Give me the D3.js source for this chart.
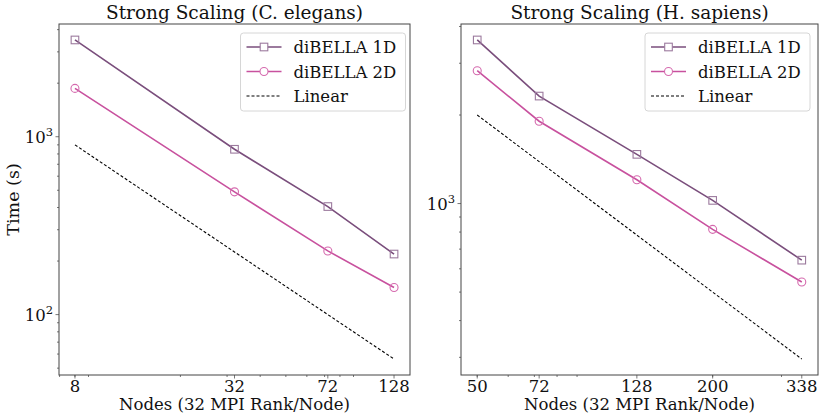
<!DOCTYPE html>
<html>
<head>
<meta charset="utf-8">
<script src="https://cdn.jsdelivr.net/npm/d3@7"></script>
<style>
  html, body { margin: 0; padding: 0; background: #fff; }
  svg text { font-family: "DejaVu Serif", serif; fill: #111; }
</style>
</head>
<body>
<svg id="chart" width="831" height="419"></svg>
<script>
// ---- data ----
const elegansNodes = [8, 32, 72, 128];
const elegans1D = [3500, 850, 405, 219];
const elegans2D = [1870, 490, 228, 142];
const elegansLinear = [900, 225, 100, 56.25];

const sapiensNodes = [50, 72, 128, 200, 338];
const sapiens1D = [3600, 2320, 1470, 1025, 642];
const sapiens2D = [2830, 1905, 1205, 817, 541];
const sapiensLinear = [2000, 1389, 781, 500, 296];

const seriesNames = ["diBELLA 1D", "diBELLA 2D", "Linear"];

// colours
const col1D = "#7a4e7c", mark1D = "#9c7a9e";
const col2D = "#c8519e", mark2D = "#d56aae";

const svg = d3.select("#chart");

function logPad(lo, hi, frac) {
    const a = Math.log10(lo), b = Math.log10(hi);
    const m = (b - a) * frac;
    return [Math.pow(10, a - m), Math.pow(10, b + m)];
}

function drawPanel(opts) {
    const { left, right, top, bottom, nodes, s1, s2, lin, title, yLabel, legendX } = opts;
    const g = svg.append("g");

    const x = d3.scaleLog()
        .domain(logPad(d3.min(nodes), d3.max(nodes), 0.05))
        .range([left, right]);
    const allY = s1.concat(s2, lin);
    const y = d3.scaleLog()
        .domain(logPad(d3.min(allY), d3.max(allY), 0.05))
        .range([bottom, top]);

    // minor ticks (2..9 x 10^k), matplotlib style
    const [xd0, xd1] = x.domain();
    const xMinor = [];
    for (let k = Math.floor(Math.log10(xd0)); k <= Math.ceil(Math.log10(xd1)); k++) {
        for (let s = 2; s <= 9; s++) {
            const v = s * Math.pow(10, k);
            if (v >= xd0 && v <= xd1) xMinor.push(v);
        }
    }
    const [yd0, yd1] = y.domain();
    const yMinor = [], yMajor = [];
    for (let k = Math.floor(Math.log10(yd0)); k <= Math.ceil(Math.log10(yd1)); k++) {
        const dec = Math.pow(10, k);
        if (dec >= yd0 && dec <= yd1) yMajor.push(k);
        for (let s = 2; s <= 9; s++) {
            const v = s * dec;
            if (v >= yd0 && v <= yd1) yMinor.push(v);
        }
    }

    const tickCol = "#555";
    g.selectAll(".xminor").data(xMinor).join("line")
        .attr("x1", d => x(d)).attr("x2", d => x(d))
        .attr("y1", bottom).attr("y2", bottom + 2)
        .attr("stroke", tickCol).attr("stroke-width", 0.8);
    g.selectAll(".xmajor").data(nodes).join("line")
        .attr("x1", d => x(d)).attr("x2", d => x(d))
        .attr("y1", bottom).attr("y2", bottom + 3.5)
        .attr("stroke", tickCol).attr("stroke-width", 0.8);
    g.selectAll(".xlab").data(nodes).join("text")
        .attr("x", d => x(d)).attr("y", bottom + 16.5)
        .attr("text-anchor", "middle")
        .attr("font-size", 16.5)
        .text(d => d);

    g.selectAll(".yminor").data(yMinor).join("line")
        .attr("x1", left - 2).attr("x2", left)
        .attr("y1", d => y(d)).attr("y2", d => y(d))
        .attr("stroke", tickCol).attr("stroke-width", 0.8);
    g.selectAll(".ymajor").data(yMajor).join("line")
        .attr("x1", left - 3.5).attr("x2", left)
        .attr("y1", d => y(Math.pow(10, d))).attr("y2", d => y(Math.pow(10, d)))
        .attr("stroke", tickCol).attr("stroke-width", 0.8);
    const ylab = g.selectAll(".ylab").data(yMajor).join("text")
        .attr("x", left - 6).attr("y", d => y(Math.pow(10, d)) + 6)
        .attr("text-anchor", "end")
        .attr("font-size", 16.5);
    ylab.append("tspan").text("10");
    ylab.append("tspan").attr("dy", -7).attr("font-size", 11.5).text(d => d);

    // spines
    g.append("rect")
        .attr("x", left).attr("y", top)
        .attr("width", right - left).attr("height", bottom - top)
        .attr("fill", "none").attr("stroke", "#444").attr("stroke-width", 1);

    const line = d3.line().x(d => x(d[0])).y(d => y(d[1]));
    const pts = arr => nodes.map((n, i) => [n, arr[i]]);

    g.append("path").datum(pts(lin)).attr("d", line)
        .attr("fill", "none").attr("stroke", "#000")
        .attr("stroke-width", 1.1).attr("stroke-dasharray", "3,2");
    g.append("path").datum(pts(s1)).attr("d", line)
        .attr("fill", "none").attr("stroke", col1D).attr("stroke-width", 1.6);
    g.append("path").datum(pts(s2)).attr("d", line)
        .attr("fill", "none").attr("stroke", col2D).attr("stroke-width", 1.6);

    g.selectAll(".m1").data(pts(s1)).join("rect")
        .attr("x", d => x(d[0]) - 3.8).attr("y", d => y(d[1]) - 3.8)
        .attr("width", 7.6).attr("height", 7.6)
        .attr("fill", "none").attr("stroke", mark1D).attr("stroke-width", 1.1);
    g.selectAll(".m2").data(pts(s2)).join("circle")
        .attr("cx", d => x(d[0])).attr("cy", d => y(d[1])).attr("r", 4)
        .attr("fill", "none").attr("stroke", mark2D).attr("stroke-width", 1.1);

    // title and axis labels
    g.append("text")
        .attr("x", (left + right) / 2).attr("y", 19)
        .attr("text-anchor", "middle").attr("font-size", 18.5)
        .text(title);
    g.append("text")
        .attr("x", (left + right) / 2).attr("y", 410)
        .attr("text-anchor", "middle").attr("font-size", 16.5)
        .text("Nodes (32 MPI Rank/Node)");
    if (yLabel) {
        g.append("text")
            .attr("transform", `translate(19,${(top + bottom) / 2}) rotate(-90)`)
            .attr("text-anchor", "middle").attr("font-size", 17.5)
            .text(yLabel);
    }

    // legend
    const lg = g.append("g").attr("transform", `translate(${legendX},33)`);
    lg.append("rect")
        .attr("width", 165).attr("height", 78).attr("rx", 3)
        .attr("fill", "#fff").attr("fill-opacity", 0.8)
        .attr("stroke", "#d6d6d6").attr("stroke-width", 1);
    const rows = [
        { name: seriesNames[0], color: col1D, mark: "square", mcol: mark1D },
        { name: seriesNames[1], color: col2D, mark: "circle", mcol: mark2D },
        { name: seriesNames[2], color: "#000", mark: null, dash: true }
    ];
    rows.forEach((r, i) => {
        const ry = 14 + i * 24.5;
        lg.append("line")
            .attr("x1", 6).attr("x2", 41).attr("y1", ry).attr("y2", ry)
            .attr("stroke", r.color)
            .attr("stroke-width", r.dash ? 1.1 : 1.6)
            .attr("stroke-dasharray", r.dash ? "3,2" : null);
        if (r.mark === "square") {
            lg.append("rect").attr("x", 23.5 - 3.8).attr("y", ry - 3.8)
                .attr("width", 7.6).attr("height", 7.6)
                .attr("fill", "#fff").attr("stroke", r.mcol).attr("stroke-width", 1.1);
        } else if (r.mark === "circle") {
            lg.append("circle").attr("cx", 23.5).attr("cy", ry).attr("r", 4)
                .attr("fill", "#fff").attr("stroke", r.mcol).attr("stroke-width", 1.1);
        }
        lg.append("text").attr("x", 53).attr("y", ry + 6)
            .attr("font-size", 16.5).text(r.name);
    });
}

drawPanel({
    left: 59, right: 410, top: 24, bottom: 375,
    nodes: elegansNodes, s1: elegans1D, s2: elegans2D, lin: elegansLinear,
    title: "Strong Scaling (C. elegans)", yLabel: "Time (s)", legendX: 240.5
});
drawPanel({
    left: 461, right: 818, top: 24, bottom: 375,
    nodes: sapiensNodes, s1: sapiens1D, s2: sapiens2D, lin: sapiensLinear,
    title: "Strong Scaling (H. sapiens)", yLabel: null, legendX: 645
});
</script>
</body>
</html>
